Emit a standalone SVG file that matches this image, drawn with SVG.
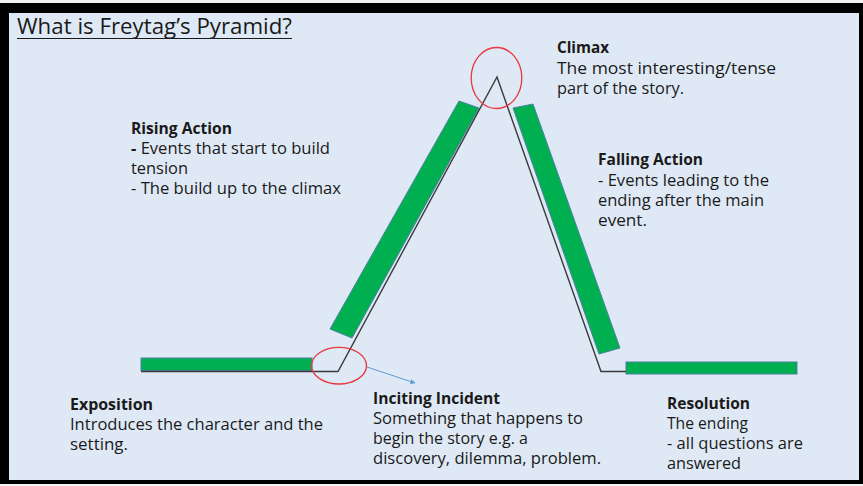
<svg xmlns="http://www.w3.org/2000/svg" width="863" height="486" viewBox="0 0 863 486">
<style>
text{font-family:"Open Sans","Liberation Sans",sans-serif;font-size:16px;fill:#1a1a1a}
.b{font-weight:bold}
.bar{fill:#00b050;stroke:#4f7fa6;stroke-width:1}
.ring{fill:none;stroke:#e8383d;stroke-width:1.3}
</style>
<defs>
<marker id="ah" viewBox="0 0 10 10" refX="9" refY="5" markerWidth="5" markerHeight="5" orient="auto"><path d="M0,0L10,5L0,10z" fill="#5b9bd5"/></marker>
</defs>
<rect x="0" y="0" width="863" height="486" fill="#f2f2f2"/>
<rect x="0" y="3" width="863" height="481" fill="#000"/>
<rect x="9" y="13" width="850" height="467" fill="#dfe9f5"/>
<g id="title"><text x="17" y="34" style="font-size:21px" textLength="275" lengthAdjust="spacingAndGlyphs">What is Freytag’s Pyramid?</text><line x1="17" y1="38.5" x2="292" y2="38.5" stroke="#1a1a1a" stroke-width="1.2"/></g>
<g id="bars">
<rect id="bar-exposition" class="bar" x="141" y="358" width="171" height="12.5"/>
<polygon id="bar-rising" class="bar" points="459,101 479,108 352,338 330,329"/>
<polygon id="bar-falling" class="bar" points="513,108 533,104 620,348 599,354"/>
<rect id="bar-resolution" class="bar" x="626" y="362" width="171" height="12"/>
</g>
<g id="connectors">
<polyline points="141,371.5 338,371.5 497,77 601,371.5 626,371.5" fill="none" stroke="#3a3a3a" stroke-width="1.4"/>
<line x1="367" y1="367" x2="415" y2="383" stroke="#5b9bd5" stroke-width="1" marker-end="url(#ah)"/>
</g>
<g id="rings">
<ellipse class="ring" cx="496.5" cy="78" rx="25.3" ry="30.5"/>
<ellipse class="ring" cx="339" cy="365.7" rx="27.5" ry="18.3"/>
</g>
<g id="climax">
<text class="b" x="557" y="53" textLength="52" lengthAdjust="spacingAndGlyphs">Climax</text>
<text x="557" y="74" textLength="219" lengthAdjust="spacingAndGlyphs">The most interesting/tense</text>
<text x="557" y="94" textLength="127" lengthAdjust="spacingAndGlyphs">part of the story.</text>
</g>
<g id="rising">
<text class="b" x="131" y="134" textLength="101" lengthAdjust="spacingAndGlyphs">Rising Action</text>
<text x="131" y="154" textLength="199" lengthAdjust="spacingAndGlyphs"><tspan class="b">-</tspan> Events that start to build</text>
<text x="131" y="174" textLength="57" lengthAdjust="spacingAndGlyphs">tension</text>
<text x="131" y="194" textLength="210" lengthAdjust="spacingAndGlyphs">- The build up to the climax</text>
</g>
<g id="falling">
<text class="b" x="598" y="165" textLength="105" lengthAdjust="spacingAndGlyphs">Falling Action</text>
<text x="598" y="186" textLength="171" lengthAdjust="spacingAndGlyphs">- Events leading to the</text>
<text x="598" y="206" textLength="166" lengthAdjust="spacingAndGlyphs">ending after the main</text>
<text x="598" y="226" textLength="49" lengthAdjust="spacingAndGlyphs">event.</text>
</g>
<g id="exposition">
<text class="b" x="70" y="410" textLength="83" lengthAdjust="spacingAndGlyphs">Exposition</text>
<text x="70" y="430" textLength="253" lengthAdjust="spacingAndGlyphs">Introduces the character and the</text>
<text x="70" y="450" textLength="58" lengthAdjust="spacingAndGlyphs">setting.</text>
</g>
<g id="inciting">
<text class="b" x="373" y="404" textLength="127" lengthAdjust="spacingAndGlyphs">Inciting Incident</text>
<text x="373" y="424" textLength="210" lengthAdjust="spacingAndGlyphs">Something that happens to</text>
<text x="373" y="444">begin the story e.g. a</text>
<text x="373" y="464" textLength="228" lengthAdjust="spacingAndGlyphs">discovery, dilemma, problem.</text>
</g>
<g id="resolution">
<text class="b" x="667" y="409" textLength="83" lengthAdjust="spacingAndGlyphs">Resolution</text>
<text x="667" y="429" textLength="81" lengthAdjust="spacingAndGlyphs">The ending</text>
<text x="667" y="449" textLength="136" lengthAdjust="spacingAndGlyphs">- all questions are</text>
<text x="667" y="469" textLength="74" lengthAdjust="spacingAndGlyphs">answered</text>
</g>
</svg>
